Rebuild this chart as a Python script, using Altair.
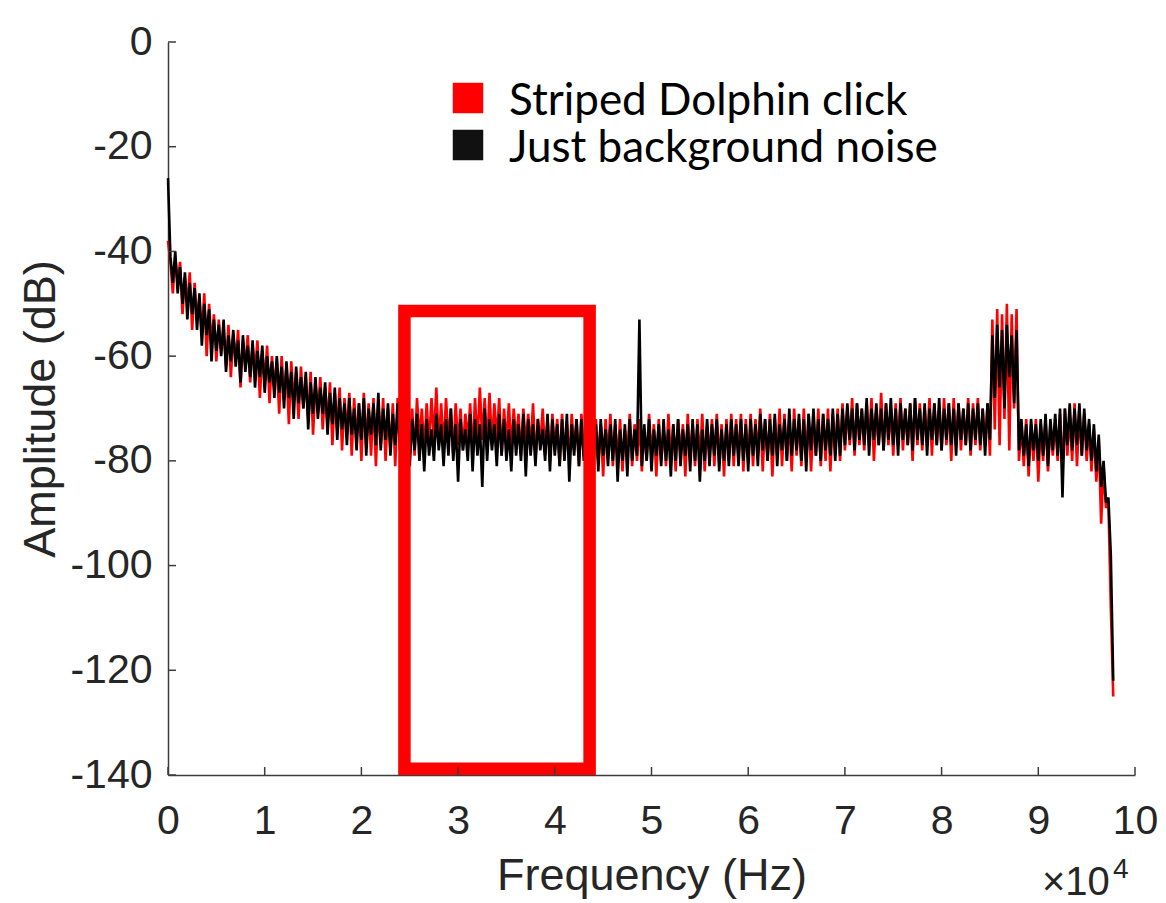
import altair as alt
import numpy as np
import pandas as pd

# Spectrum bins are 250 Hz apart, starting at 0 Hz
BIN_HZ = 250

# Background-only spectrum (dB), split by frequency range
noise_0_24k = [
    -26, -41, -46, -40, -48, -43, -50, -44, -53, -46,
    -52, -47, -55, -48, -58, -50, -56, -51, -61, -53,
    -59, -54, -60, -53, -63, -56, -61, -55, -62, -57,
    -65, -56, -63, -58, -64, -57, -66, -59, -64, -58,
    -67, -60, -65, -61, -68, -60, -67, -62, -70, -61,
    -68, -63, -72, -62, -69, -64, -70, -63, -74, -65,
    -71, -64, -72, -66, -71, -65, -75, -67, -73, -66,
    -76, -68, -74, -69, -77, -68, -75, -70, -78, -69,
    -76, -68, -79, -70, -75, -69, -77, -67, -78, -70,
    -76, -69, -79, -71, -77, -69, -78,
]
noise_24_49k = [
    -72, -79, -73, -81, -72, -78, -71, -80, -73, -82,
    -72, -79, -74, -80, -71, -78, -73, -81, -72, -79,
    -70, -80, -73, -84, -72, -78, -74, -80, -71, -82,
    -72, -79, -73, -85, -70, -80, -72, -78, -73, -81,
    -71, -79, -72, -80, -74, -82, -72, -79, -73, -80,
    -71, -83, -72, -79, -73, -81, -72, -78, -74, -80,
    -71, -82, -72, -79, -73, -81, -72, -80, -71, -84,
    -73, -79, -72, -81, -72, -80, -71, -79, -73, -80,
    -73, -82, -72, -79, -74, -81, -73, -80, -72, -84,
    -74, -80, -73, -83, -72, -80, -74, -79, -53,
]
noise_49_70k = [
    -81, -73, -80, -72, -82, -74, -79, -73, -81, -72,
    -80, -74, -83, -73, -80, -72, -81, -74, -79, -73,
    -82, -72, -80, -73, -84, -74, -80, -72, -81, -73,
    -79, -72, -82, -74, -80, -73, -81, -72, -79, -73,
    -81, -72, -80, -73, -82, -72, -79, -73, -81, -71,
    -78, -72, -80, -72, -79, -71, -81, -73, -78, -72,
    -80, -70, -79, -72, -78, -71, -80, -72, -82, -71,
    -78, -70, -79, -72, -80, -71, -78, -72, -79, -70,
    -80, -71, -79,
]
noise_70_98k = [
    -70, -77, -69, -76, -70, -78, -69, -76, -70, -77,
    -68, -79, -70, -76, -69, -77, -70, -78, -69, -76,
    -68, -77, -70, -79, -69, -76, -70, -77, -69, -78,
    -68, -76, -70, -77, -69, -79, -70, -76, -69, -77,
    -68, -78, -70, -76, -69, -77, -70, -79, -69, -76,
    -70, -77, -69, -78, -70, -76, -69, -77, -70, -79,
    -69, -76, -56, -68, -54, -66, -55, -70, -54, -64,
    -56, -69, -55, -78, -72, -79, -73, -81, -72, -78,
    -73, -80, -72, -79, -71, -81, -72, -78, -71, -79,
    -70, -87, -70, -77, -69, -78, -70, -77, -69, -79,
    -70, -78, -72, -80, -73, -82, -75, -85, -80, -88,
    -87, -98, -122,
]

# Spectrum with a striped dolphin click present (dB)
click_0_24k = [
    -38, -42, -48, -41, -46, -42, -52, -45, -50, -44,
    -55, -46, -53, -49, -56, -48, -60, -50, -58, -52,
    -61, -53, -59, -55, -62, -54, -64, -56, -61, -55,
    -66, -57, -62, -56, -65, -58, -63, -57, -68, -59,
    -65, -58, -69, -60, -66, -61, -71, -60, -68, -62,
    -73, -61, -69, -63, -72, -62, -70, -64, -72, -63,
    -75, -65, -71, -64, -74, -66, -73, -65, -77, -67,
    -74, -66, -78, -68, -75, -67, -79, -68, -76, -69,
    -80, -67, -77, -69, -79, -68, -81, -69, -77, -68,
    -80, -70, -78, -69, -81, -68, -77,
]
click_24_49k = [
    -71, -80, -69, -77, -70, -79, -68, -76, -70, -78,
    -69, -77, -68, -76, -66, -77, -69, -78, -68, -76,
    -70, -79, -69, -77, -70, -78, -71, -76, -69, -79,
    -68, -77, -66, -76, -68, -78, -67, -77, -69, -76,
    -68, -79, -70, -77, -69, -78, -70, -76, -71, -79,
    -70, -77, -71, -78, -69, -80, -72, -77, -70, -79,
    -72, -80, -71, -78, -72, -81, -71, -79, -73, -80,
    -71, -78, -72, -81, -71, -79, -72, -80, -71, -81,
    -72, -80, -73, -83, -72, -79, -71, -81, -73, -80,
    -72, -82, -74, -79, -71, -81, -73, -80, -72,
]
click_49_70k = [
    -82, -74, -80, -71, -79, -73, -83, -72, -80, -74,
    -81, -71, -80, -73, -82, -72, -79, -73, -83, -71,
    -80, -73, -81, -72, -80, -71, -82, -73, -79, -72,
    -81, -71, -80, -73, -83, -72, -80, -71, -81, -72,
    -79, -71, -82, -72, -80, -71, -81, -72, -79, -70,
    -82, -72, -80, -71, -83, -72, -79, -70, -81, -71,
    -80, -72, -82, -70, -79, -72, -81, -70, -80, -71,
    -82, -72, -79, -70, -81, -71, -80, -70, -82, -71,
    -79, -70, -80,
]
click_70_98k = [
    -69, -78, -70, -77, -68, -79, -69, -77, -70, -78,
    -69, -77, -68, -80, -70, -77, -67, -78, -69, -77,
    -70, -79, -69, -77, -68, -78, -70, -77, -69, -80,
    -68, -77, -69, -78, -70, -77, -68, -79, -69, -77,
    -70, -78, -68, -77, -69, -80, -68, -77, -69, -78,
    -70, -77, -68, -79, -69, -77, -68, -78, -70, -77,
    -69, -79, -53, -74, -51, -77, -52, -72, -50, -78,
    -52, -70, -51, -80, -73, -81, -72, -83, -73, -80,
    -72, -84, -73, -80, -72, -82, -73, -79, -72, -80,
    -71, -82, -70, -79, -71, -80, -69, -81, -70, -79,
    -71, -80, -73, -82, -74, -84, -76, -92, -81, -89,
    -88, -108, -125,
]

background = noise_0_24k + noise_24_49k + noise_49_70k + noise_70_98k
click = click_0_24k + click_24_49k + click_49_70k + click_70_98k
freq = (np.arange(len(background)) * BIN_HZ).tolist()

SERIES = ["Striped Dolphin click", "Just background noise"]
COLORS = ["#ff0000", "#000000"]
KEY_COLORS = ["#ff0000", "#111111"]

x_ticks = [0, 10000, 20000, 30000, 40000, 50000, 60000, 70000, 80000, 90000, 100000]
y_ticks = [-140, -120, -100, -80, -60, -40, -20, 0]

# Frequency band highlighted with a red frame
box_freq = [24450, 43600]
box_amp = [-138.8, -51.4]

click_df = pd.DataFrame({"freq": freq, "amp": click, "series": SERIES[0]})
noise_df = pd.DataFrame({"freq": freq, "amp": background, "series": SERIES[1]})
box_df = pd.DataFrame({"freq": [box_freq[0]], "freq2": [box_freq[1]],
                       "amp": [box_amp[0]], "amp2": [box_amp[1]]})

AXIS_GREY = "#3c3c3c"
TEXT_GREY = "#262626"
FONT = "Liberation Sans"

x_enc = alt.X(
    "freq:Q",
    title="Frequency (Hz)",
    scale=alt.Scale(domain=[0, 100000], nice=False, zero=False),
    axis=alt.Axis(values=x_ticks, labelExpr="'' + (datum.value / 10000)", tickSize=0,
                  labelPadding=26, titlePadding=12, grid=False,
                  labelFlush=False, labelOverlap=False,
                  domainColor=AXIS_GREY, domainWidth=1.5,
                  labelFont=FONT, labelFontSize=41, labelColor=TEXT_GREY,
                  titleFont=FONT, titleFontSize=45, titleFontWeight="normal",
                  titleColor=TEXT_GREY),
)
y_enc = alt.Y(
    "amp:Q",
    title="Amplitude (dB)",
    scale=alt.Scale(domain=[-140, 0], nice=False, zero=False),
    axis=alt.Axis(values=y_ticks, labelExpr="'' + datum.value", tickSize=0,
                  labelPadding=16, titlePadding=6, grid=False,
                  labelFlush=False, labelOverlap=False,
                  domainColor=AXIS_GREY, domainWidth=1.5,
                  labelFont=FONT, labelFontSize=41, labelColor=TEXT_GREY,
                  titleFont=FONT, titleFontSize=45, titleFontWeight="normal",
                  titleColor=TEXT_GREY),
)
color_enc = alt.Color(
    "series:N",
    scale=alt.Scale(domain=SERIES, range=COLORS),
    legend=None,
)

click_line = alt.Chart(click_df).mark_line(strokeWidth=2.6).encode(
    x=x_enc, y=y_enc, color=color_enc)
noise_line = alt.Chart(noise_df).mark_line(strokeWidth=2.6).encode(
    x=x_enc, y=y_enc, color=color_enc)

frame = alt.Chart(box_df).mark_rect(fillOpacity=0, stroke="#ff0000", strokeWidth=12.5).encode(
    x=x_enc, x2="freq2", y=y_enc, y2="amp2")

# inward-pointing tick marks
x_tick_marks = alt.Chart(pd.DataFrame({"freq": x_ticks})).mark_rule(
    color=AXIS_GREY, strokeWidth=1.5).encode(x=x_enc, y=alt.value(733), y2=alt.value(725))
y_tick_marks = alt.Chart(pd.DataFrame({"amp": y_ticks})).mark_rule(
    color=AXIS_GREY, strokeWidth=1.5).encode(y=y_enc, x=alt.value(0), x2=alt.value(8))

# key: filled squares with labels
key_layers = []
for row, (name, col) in enumerate(zip(SERIES, KEY_COLORS)):
    row_df = pd.DataFrame({"label": [name]})
    key_layers.append(
        alt.Chart(row_df).mark_square(size=930, opacity=1, filled=True, color=col)
        .encode(x=alt.value(300), y=alt.value(56 + 47 * row))
    )
    key_layers.append(
        alt.Chart(row_df).mark_text(align="left", baseline="alphabetic", font="Lato",
                                    fontSize=44, color="#000000")
        .encode(x=alt.value(341), y=alt.value(73 + 47 * row), text="label:N")
    )

# axis exponent label (x 10^4)
exp_base = alt.Chart(pd.DataFrame({"label": ["\u00d710"]})).mark_text(
    align="left", baseline="alphabetic", font=FONT, fontSize=40, color=TEXT_GREY
).encode(x=alt.value(874), y=alt.value(853), text="label:N")
exp_power = alt.Chart(pd.DataFrame({"label": ["4"]})).mark_text(
    align="left", baseline="alphabetic", font=FONT, fontSize=28, color=TEXT_GREY
).encode(x=alt.value(945), y=alt.value(836), text="label:N")

chart = alt.layer(
    click_line, noise_line, frame, x_tick_marks, y_tick_marks, *key_layers,
    exp_base, exp_power
).properties(
    width=967,
    height=733,
    padding={"left": 168, "top": 42, "right": 31, "bottom": 128},
    autosize=alt.AutoSizeParams(type="none"),
    background="#ffffff",
).configure_view(stroke=None)

chart.save("out.html", embed_options={"renderer": "svg", "actions": False})
